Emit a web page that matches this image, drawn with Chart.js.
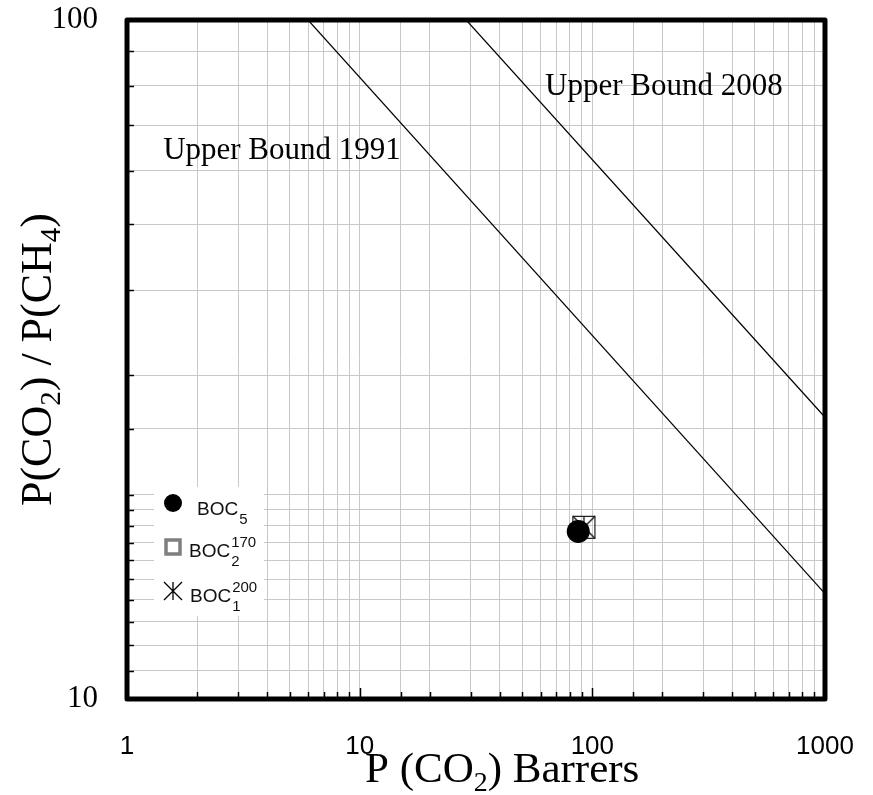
<!DOCTYPE html>
<html><head><meta charset="utf-8">
<script src="https://cdn.jsdelivr.net/npm/chart.js@4/dist/chart.umd.min.js"></script>
<style>html,body{margin:0;padding:0;background:#fff}#wrap{width:873px;height:795px}</style>
</head><body><div id="wrap"><canvas id="c" width="873" height="795"></canvas></div>
<script>
// ---- data ----
const xTickLabels = [1, 10, 100, 1000];
const yTickLabels = [10, 100];
const bound1991X = [6.0, 1000];
const bound1991Y = [100, 14.3];
const bound2008X = [28.7, 1000];
const bound2008Y = [100, 26.0];
const boc5X = [87];  const boc5Y = [17.65];
const boc2X = [92];  const boc2Y = [17.9];
const boc1X = [92];  const boc1Y = [17.9];
const boundLabels = ['Upper Bound 1991', 'Upper Bound 2008'];
const boundLabelX = [1.43, 62.6];
const boundLabelY = [62.4, 77.5];
const legendNames = [
  {base: 'BOC', sub: '5', sup: ''},
  {base: 'BOC', sub: '2', sup: '170'},
  {base: 'BOC', sub: '1', sup: '200'}
];

function pts(xs, ys){ return xs.map((x,i)=>({x:x, y:ys[i]})); }

// asterisk marker (X + vertical bar)
function starCanvas(h, lw){
  const c = document.createElement('canvas');
  c.width = 2*h+2; c.height = 2*h+2;
  const g = c.getContext('2d');
  g.strokeStyle = '#000'; g.lineWidth = lw;
  const m = h+1;
  g.beginPath();
  g.moveTo(m-h, m-h); g.lineTo(m+h, m+h);
  g.moveTo(m+h, m-h); g.lineTo(m-h, m+h);
  g.moveTo(m, m-h); g.lineTo(m, m+h);
  g.stroke();
  return c;
}
const starImg = starCanvas(11, 1.2);

function isDecade(v){ const e = Math.log10(v); return Math.abs(e - Math.round(e)) < 1e-9; }

function drawRich(ctx, parts, x, y, size, family){
  let cx = x;
  parts.forEach(p=>{
    if (p.sub){
      ctx.font = Math.round(size*0.65) + 'px ' + family;
      ctx.fillText(p.t, cx, y + size*0.2);
    } else {
      ctx.font = size + 'px ' + family;
      ctx.fillText(p.t, cx, y);
    }
    cx += ctx.measureText(p.t).width;
  });
  return cx - x;
}
function richWidth(ctx, parts, size, family){
  let w = 0;
  parts.forEach(p=>{
    ctx.font = (p.sub ? Math.round(size*0.65) : size) + 'px ' + family;
    w += ctx.measureText(p.t).width;
  });
  return w;
}

const decor = {
  id: 'decor',
  afterDraw(chart){
    const ctx = chart.ctx, a = chart.chartArea;
    const xs = chart.scales.x, ys = chart.scales.y;
    ctx.save();
    // inside tick marks
    ctx.strokeStyle = '#000'; ctx.lineWidth = 1.5;
    ys.ticks.forEach(t=>{
      const py = Math.round(ys.getPixelForValue(t.value)) + 0.5;
      const L = isDecade(t.value) ? 10 : 7;
      ctx.beginPath(); ctx.moveTo(a.left, py); ctx.lineTo(a.left + L, py); ctx.stroke();
    });
    xs.ticks.forEach(t=>{
      const px = Math.round(xs.getPixelForValue(t.value)) + 0.5;
      const L = isDecade(t.value) ? 11 : 7;
      ctx.beginPath(); ctx.moveTo(px, a.bottom); ctx.lineTo(px, a.bottom - L); ctx.stroke();
    });
    // frame
    ctx.lineWidth = 5; ctx.lineJoin = 'round';
    ctx.strokeRect(a.left, a.top, a.right - a.left, a.bottom - a.top);

    // bound labels
    ctx.fillStyle = '#000'; ctx.textBaseline = 'alphabetic'; ctx.textAlign = 'left';
    ctx.font = '31px "Liberation Serif", "Times New Roman", serif';
    boundLabels.forEach((s,i)=>{
      ctx.fillText(s, xs.getPixelForValue(boundLabelX[i]), ys.getPixelForValue(boundLabelY[i]));
    });

    // legend box
    const lx = a.left + 27, ly = a.bottom - 212;
    ctx.fillStyle = '#fff';
    ctx.fillRect(lx, ly, 110, 129);
    // markers
    ctx.fillStyle = '#000';
    ctx.beginPath(); ctx.arc(lx + 19, ly + 16, 9, 0, Math.PI*2); ctx.fill();
    ctx.strokeStyle = '#7f7f7f'; ctx.lineWidth = 3.5; ctx.lineJoin = 'miter';
    ctx.strokeRect(lx + 12, ly + 53, 14, 14);
    ctx.drawImage(starCanvas(9, 1.3), lx + 19 - 10, ly + 104 - 10);
    // texts
    ctx.fillStyle = '#111';
    const fam = '"Liberation Sans", Arial, sans-serif';
    const rows = [
      {x: lx + 43, y: ly + 28, size: 19},
      {x: lx + 35, y: ly + 70, size: 19},
      {x: lx + 36, y: ly + 115, size: 19}
    ];
    legendNames.forEach((n,i)=>{
      const r = rows[i];
      ctx.font = r.size + 'px ' + fam;
      ctx.fillText(n.base, r.x, r.y);
      const bx = r.x + ctx.measureText(n.base).width + 1;
      ctx.font = '15px ' + fam;
      ctx.fillText(n.sub, bx, r.y + 9);
      if (n.sup) ctx.fillText(n.sup, bx, r.y - 10);
    });

    // axis titles
    ctx.fillStyle = '#000';
    const tf = '"Liberation Serif", "Times New Roman", serif';
    const xParts = [{t:'P (CO'},{t:'2',sub:true},{t:') Barrers'}];
    drawRich(ctx, xParts, 365, 782, 43, tf);
    const yParts = [{t:'P(CO'},{t:'2',sub:true},{t:') / P(CH'},{t:'4',sub:true},{t:')'}];
    const yw = richWidth(ctx, yParts, 44, tf);
    ctx.translate(51, (a.top + a.bottom)/2 + yw/2);
    ctx.rotate(-Math.PI/2);
    drawRich(ctx, yParts, 0, 0, 44, tf);
    ctx.restore();
  }
};

new Chart(document.getElementById('c'), {
  type: 'scatter',
  data: {
    datasets: [
      {label: 'BOC5', data: pts(boc5X, boc5Y), pointStyle: 'circle', pointRadius: 11.5,
       backgroundColor: '#000', borderColor: '#000', borderWidth: 0},
      {label: 'BOC2-170', data: pts(boc2X, boc2Y), pointStyle: 'rect', pointRadius: 15.6,
       backgroundColor: 'rgba(0,0,0,0)', borderColor: '#222', borderWidth: 1.2},
      {label: 'BOC1-200', data: pts(boc1X, boc1Y), pointStyle: starImg, pointRadius: 11},
      {label: 'Upper Bound 1991', data: pts(bound1991X, bound1991Y), showLine: true,
       borderColor: '#000', borderWidth: 1.2, pointRadius: 0},
      {label: 'Upper Bound 2008', data: pts(bound2008X, bound2008Y), showLine: true,
       borderColor: '#000', borderWidth: 1.2, pointRadius: 0}
    ]
  },
  options: {
    responsive: false, animation: false, devicePixelRatio: 1,
    layout: {padding: {left: 0, top: 20, right: 48, bottom: 0}},
    plugins: {legend: {display: false}, tooltip: {enabled: false}},
    scales: {
      x: {
        type: 'logarithmic', min: 1, max: 1000,
        grid: {color: '#c8c8c8', lineWidth: 1, drawTicks: false},
        border: {display: false},
        ticks: {autoSkip: false, maxRotation: 0, minRotation: 0, padding: 32, color: '#000',
          font: {family: '"Liberation Sans", Arial, sans-serif', size: 26},
          callback: (v) => (isDecade(v) && xTickLabels.includes(Math.round(v))) ? String(Math.round(v)) : ''},
        afterFit(s){ s.height = 96; s.paddingLeft = 0; s.paddingRight = 0; }
      },
      y: {
        type: 'logarithmic', min: 10, max: 100,
        grid: {color: '#c8c8c8', lineWidth: 1, drawTicks: false},
        border: {display: false},
        ticks: {autoSkip: false, padding: 29, color: '#000',
          font: {family: '"Liberation Serif", "Times New Roman", serif', size: 31},
          callback: (v) => (isDecade(v) && yTickLabels.includes(Math.round(v))) ? String(Math.round(v)) : ''},
        afterFit(s){ s.width = 127; s.paddingTop = 0; s.paddingBottom = 0; }
      }
    }
  },
  plugins: [decor]
});
</script>
</body></html>
